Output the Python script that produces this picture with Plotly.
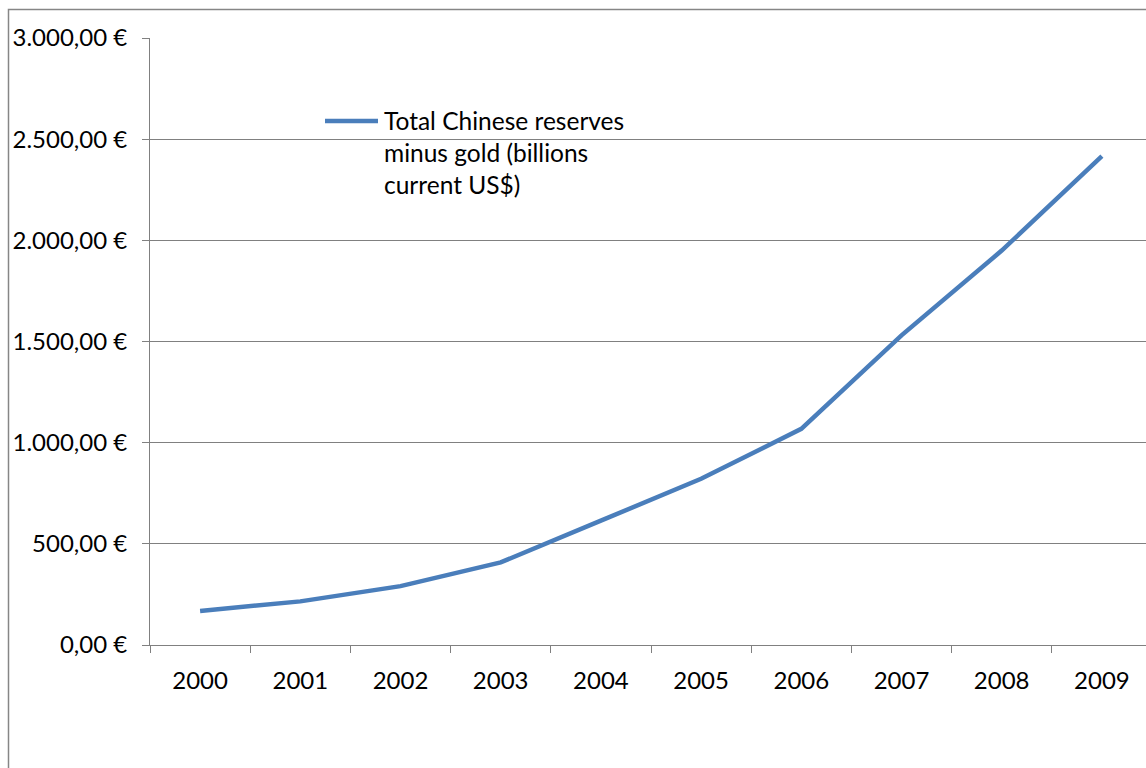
import plotly.graph_objects as go

years = ["2000", "2001", "2002", "2003", "2004", "2005", "2006", "2007", "2008", "2009"]
reserves = [168.3, 215.6, 291.1, 408.2, 614.5, 821.5, 1068.5, 1530.3, 1949.3, 2416.0]
y_tick_vals = [0, 500, 1000, 1500, 2000, 2500, 3000]
y_tick_text = ["0,00 €", "500,00 €", "1.000,00 €", "1.500,00 €", "2.000,00 €", "2.500,00 €", "3.000,00 €"]
series_name = "Total Chinese reserves<br>minus gold (billions<br>current US$)"

W, H = 1146, 768
L, T, B = 150, 38, 645
pw, ph = W - L, B - T

def px(x):
    return (x - L) / pw

def py(y):
    return (B - y) / ph

fig = go.Figure()
fig.add_trace(go.Scatter(
    x=years, y=reserves, mode="lines",
    line=dict(color="#4a7ebb", width=4.5),
    name=series_name, showlegend=False,
))

grey = "#808080"
fig.update_layout(
    width=W, height=H,
    margin=dict(l=L, r=0, t=T, b=H - B, pad=0),
    paper_bgcolor="white", plot_bgcolor="white",
    font=dict(family="Lato", size=24, color="black"),
    xaxis=dict(
        type="category", range=[-0.5, -0.5 + pw / 100.2],
        tickson="boundaries", ticks="outside", ticklen=7, tickcolor=grey, tickwidth=1,
        showline=True, linecolor=grey, linewidth=1,
        showgrid=False, ticklabelstandoff=14,
    ),
    yaxis=dict(
        range=[0, 3000], tickvals=y_tick_vals, ticktext=y_tick_text,
        ticks="outside", ticklen=7, tickcolor=grey, tickwidth=1,
        showline=True, linecolor=grey, linewidth=1,
        showgrid=True, gridcolor=grey, gridwidth=1, zeroline=False,
        ticklabelstandoff=10,
    ),
    shapes=[
        dict(type="rect", xref="paper", yref="paper",
             x0=px(8.5), x1=1.2, y0=-0.5, y1=py(9.5),
             line=dict(color="#868686", width=1.5), layer="above"),
        dict(type="line", xref="paper", yref="paper",
             x0=px(325), x1=px(378), y0=py(121), y1=py(121),
             line=dict(color="#4a7ebb", width=4.5)),
    ],
    annotations=[
        dict(xref="paper", yref="paper", x=px(382), y=py(152),
             xanchor="left", yanchor="middle", align="left",
             text=series_name, showarrow=False,
             font=dict(family="Lato", size=24.5, color="black")),
    ],
)

fig.write_html("out.html")
